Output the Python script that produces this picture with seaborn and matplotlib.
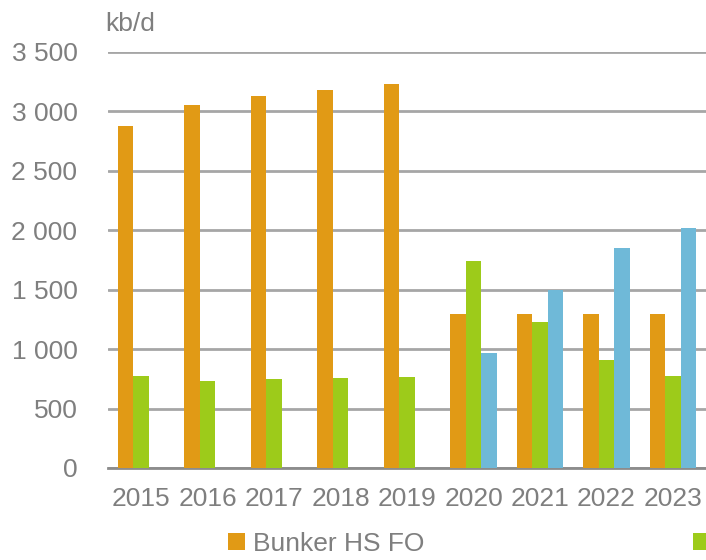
import numpy as np
import pandas as pd
import seaborn as sns
import matplotlib.pyplot as plt

# data (kb/d)
years = ["2015", "2016", "2017", "2018", "2019", "2020", "2021", "2022", "2023"]
hsfo = [2880, 3050, 3130, 3180, 3230, 1295, 1295, 1295, 1295]
mgo = [775, 735, 750, 757, 765, 1738, 1230, 905, 775]
vlsfo = [np.nan, np.nan, np.nan, np.nan, np.nan, 967, 1497, 1848, 2018]
series = ["Bunker HS FO", "Bunker MGO", "Bunker VLSFO"]
colors = ["#E19A15", "#9DCB1A", "#6FB9D8"]
yticks = [0, 500, 1000, 1500, 2000, 2500, 3000, 3500]

df = pd.DataFrame({"year": years * 3,
                   "value": hsfo + mgo + vlsfo,
                   "series": np.repeat(series, len(years))})

sns.set_style("white")
plt.rcParams['font.family'] = ['Liberation Sans', 'DejaVu Sans']

fig = plt.figure(figsize=(7.06, 5.6), dpi=100)
ax = fig.add_axes([0.153, 0.1643, 0.852, 0.743])

sns.barplot(data=df, x="year", y="value", hue="series", hue_order=series,
            order=years, palette=colors, width=0.7, gap=0, saturation=1,
            errorbar=None, linewidth=0, ax=ax, zorder=3)

grey = "#7f7f7f"
fs = 19
ax.set_ylim(0, 3500)
ax.set_xlim(-0.5, len(years) - 0.45)
ax.set_yticks(yticks)
ax.set_yticklabels([f"{v:,}".replace(",", " ") for v in yticks])
ax.set_xlabel("")
ax.set_ylabel("")
ax.yaxis.grid(True, color="#a6a6a6", linewidth=2, zorder=0)
ax.set_axisbelow(True)
for s in ["left", "right", "top"]:
    ax.spines[s].set_visible(False)
ax.spines["bottom"].set_color("#8c8c8c")
ax.spines["bottom"].set_linewidth(2)
ax.tick_params(axis="both", length=0, labelsize=fs, labelcolor=grey)
ax.tick_params(axis="y", pad=22)
ax.tick_params(axis="x", pad=14)

fig.text(0.149, 0.978, "kb/d", fontsize=fs, color=grey, va="top", ha="left")

ax.get_legend().remove()
handles, labels = ax.get_legend_handles_labels()
leg = fig.legend(handles, labels, loc="upper left", bbox_to_anchor=(0.323, 0.05),
                 ncol=3, frameon=False, fontsize=fs, borderpad=0, borderaxespad=0,
                 handlelength=0.64, handleheight=0.64, handletextpad=0.3,
                 columnspacing=10.2, labelcolor=grey)

fig.savefig("out.png", dpi=100)
